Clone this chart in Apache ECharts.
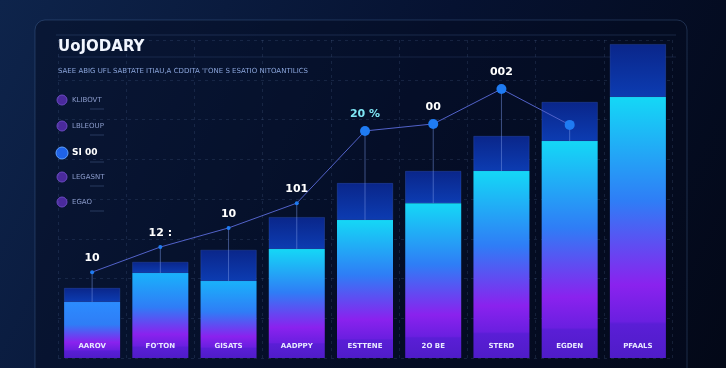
<!DOCTYPE html>
<html><head><meta charset="utf-8">
<script src="https://cdn.jsdelivr.net/npm/echarts@6/dist/echarts.min.js"></script>
<style>html,body{margin:0;padding:0;background:#050c22;}#c{width:726px;height:368px;}</style>
</head><body><div id="c"></div>
<script>
// ---- data ----
var categories = ["AAROV","FO'TON","GISATS","AADPPY","ESTTENE","2O BE","STERD","EGDEN","PFAALS"];
var brightValues = [17.6, 26.7, 24.2, 34.3, 43.4, 48.7, 58.8, 68.2, 82.1];
var totalValues  = [22.0, 30.2, 34.0, 44.3, 55.0, 58.8, 69.8, 80.5, 98.7];
var lineValues   = [27.0, 34.9, 40.9, 48.7, 71.4, 73.6, 84.6, 73.3, null];
var lineLabels   = ["10", "12 :", "10", "101", "20 %", "00", "002", "", ""];
var legendNames  = ["KLIBOVT", "LBLEOUP", "SI 00", "LEGASNT", "EGAO"];
var titleText = "UoJODARY";
var subtitleText = "SAEE ABIG UFL SABTATE ITIAU,A CDDITA 'I'ONE S ESATIO NITOANTILICS";

var chart = echarts.init(document.getElementById('c'), null, {renderer:'canvas'});

var topSeg = totalValues.map(function(t,i){ return +(t - brightValues[i]).toFixed(1); });

function brightColor(v){
  var top = v < 20 ? '#2b8cff' : (v < 30 ? '#19b2fb' : '#14d8f6');
  return new echarts.graphic.LinearGradient(0,0,0,1,[
    {offset:0, color: top},
    {offset:0.4, color:'#2f7df6'},
    {offset:0.72, color:'#8a22ee'},
    {offset:0.86, color:'#6a1fe0'},
    {offset:0.87, color:'#5a1ed6'},
    {offset:1, color:'#4f1cc8'}
  ]);
}

var legendGraphics = [];
var legendY = [100, 126, 153, 177, 202];
legendNames.forEach(function(n,i){
  var hi = i === 2;
  legendGraphics.push({type:'circle', shape:{cx:62, cy:legendY[i], r: hi?6:5},
    style:{fill: hi ? '#1f63e8' : '#4a2a9c', stroke: hi?'#5fa0ff':'#6a48c0', lineWidth:1}, z:10});
  legendGraphics.push({type:'text', x:72, y:legendY[i], style:{text:n, fill: hi?'#ffffff':'#8c9ccc',
    font: (hi?'bold 9px':'7px') + ' "DejaVu Sans"', textVerticalAlign:'middle'}, z:10});
  legendGraphics.push({type:'line', shape:{x1:90, y1:legendY[i]+9, x2:104, y2:legendY[i]+9},
    style:{stroke:'rgba(120,150,210,0.3)', lineWidth:1}, z:10});
});

var option = {
  backgroundColor: new echarts.graphic.LinearGradient(0,0,1,1,[
    {offset:0, color:'#0e244b'}, {offset:0.5, color:'#061231'}, {offset:1, color:'#030817'}
  ]),
  animation:false,
  graphic: [
    {type:'rect', shape:{x:35, y:20, width:652, height:370, r:10},
     style:{fill:'rgba(4,10,30,0.45)', stroke:'rgba(90,125,180,0.3)', lineWidth:1}, z:-10},
    {type:'line', shape:{x1:56, y1:35, x2:676, y2:35}, style:{stroke:'rgba(90,125,180,0.25)', lineWidth:1}, z:-9},
    {type:'line', shape:{x1:58, y1:57, x2:676, y2:57}, style:{stroke:'rgba(90,125,180,0.2)', lineWidth:1}, z:-9},
    {type:'text', x:58, y:40, style:{text:titleText, fill:'#f2f6ff', font:'bold 15px "DejaVu Sans"'}, z:10},
    {type:'text', x:58, y:68, style:{text:subtitleText, fill:'#8aa4da', font:'7px "DejaVu Sans"'}, z:10}
  ].concat(legendGraphics),
  grid: {left:58, right:54, top:40, bottom:10, containLabel:false},
  xAxis: {
    type:'category', data:categories,
    axisLine:{show:false}, axisTick:{show:false},
    axisLabel:{inside:true, margin:8, color:'#e8eaff', fontSize:7, fontWeight:'bold', fontFamily:'DejaVu Sans'},
    splitLine:{show:true, lineStyle:{color:'rgba(110,140,190,0.16)', type:[3,4]}},
    z:10
  },
  yAxis: {
    type:'value', min:0, max:100, interval:12.5,
    axisLine:{show:false}, axisTick:{show:false}, axisLabel:{show:false},
    splitLine:{show:true, lineStyle:{color:'rgba(110,140,190,0.16)', type:[3,4]}}
  },
  series: [
    {
      name:'bright', type:'bar', stack:'a', barWidth:56,
      data: brightValues.map(function(v){ return {value:v, itemStyle:{color:brightColor(v)}}; }),
      z:2
    },
    {
      name:'top', type:'bar', stack:'a', barWidth:56,
      itemStyle:{color:new echarts.graphic.LinearGradient(0,0,0,1,[
        {offset:0, color:'#0a268a'}, {offset:1, color:'#0c3cb2'}]),
        borderColor:'rgba(70,110,220,0.5)', borderWidth:0.5},
      data: topSeg, z:2
    },
    {
      name:'drops', type:'custom',
      renderItem: function(params, api){
        var lv = api.value(1), bv = api.value(2);
        if (lv == null || isNaN(lv)) return null;
        var p1 = api.coord([api.value(0), lv]);
        var p2 = api.coord([api.value(0), bv]);
        return {type:'line', shape:{x1:p1[0], y1:p1[1], x2:p2[0], y2:p2[1]},
          style:{stroke:'rgba(120,150,230,0.5)', lineWidth:1}};
      },
      data: lineValues.map(function(v,i){ return [i, v, brightValues[i]]; }),
      z:3
    },
    {
      name:'line', type:'line',
      data: lineValues.map(function(v,i){
        var big = i >= 4;
        return {value:v, symbolSize: big?10:4,
          label:{show:true, formatter: lineLabels[i], color: i===4 ? '#7fe6f4' : '#ffffff'}};
      }),
      lineStyle:{color:'#5262c9', width:1},
      itemStyle:{color:'#1f7bf2'},
      symbol:'circle',
      label:{show:true, position:'top', distance:6, fontSize:11, fontWeight:'bold', fontFamily:'DejaVu Sans'},
      z:5
    }
  ]
};
chart.setOption(option);
</script></body></html>
